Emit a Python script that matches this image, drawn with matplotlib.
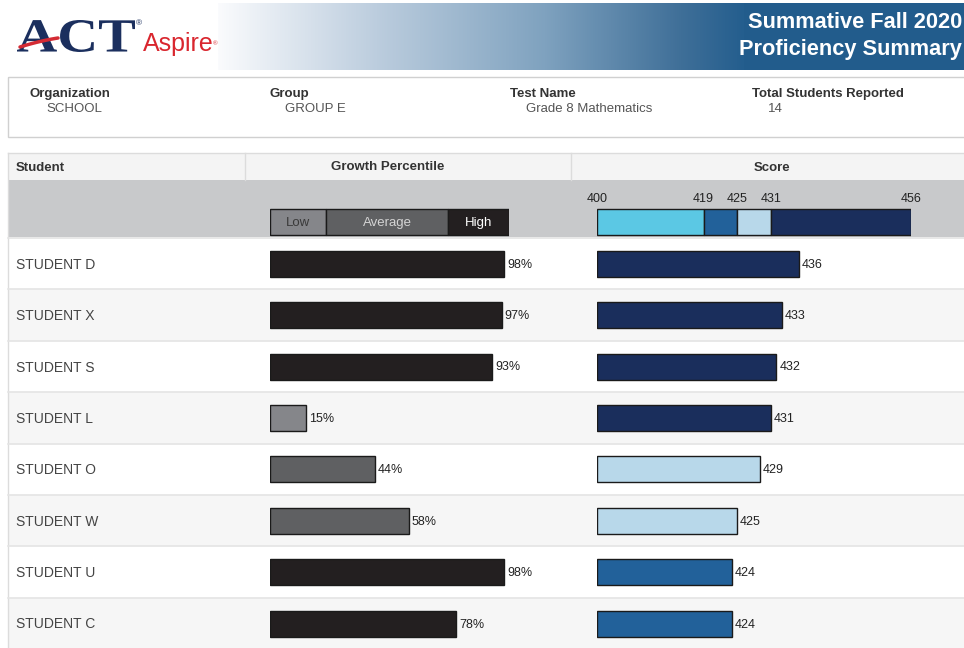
import numpy as np
import matplotlib
matplotlib.use('Agg')
import matplotlib.pyplot as plt
from matplotlib.colors import LinearSegmentedColormap
from matplotlib.textpath import TextPath
from matplotlib.patches import PathPatch, Rectangle
from matplotlib.font_manager import FontProperties
from matplotlib.transforms import Affine2D

plt.rcParams['font.family'] = ['Liberation Sans', 'DejaVu Sans']

students = ['STUDENT D', 'STUDENT X', 'STUDENT S', 'STUDENT L',
            'STUDENT O', 'STUDENT W', 'STUDENT U', 'STUDENT C']
growth = [98, 97, 93, 15, 44, 58, 98, 78]
scores = [436, 433, 432, 431, 429, 425, 424, 424]

growth_edges = [0, 23.5, 74.5, 100]
growth_labels = ['Low', 'Average', 'High']
growth_colors = ['#85868a', '#5f6062', '#231f20']
growth_text_colors = ['#3a3a3a', '#d4d4d4', '#ffffff']

score_edges = [400, 419, 425, 431, 456]
score_colors = ['#5bc8e4', '#22619a', '#b8d8ea', '#1a2e5c']

info_labels = ['Organization', 'Group', 'Test Name', 'Total Students Reported']
info_values = ['SCHOOL', 'GROUP E', 'Grade 8 Mathematics', '14']

W, H = 964, 648
fig = plt.figure(figsize=(W / 100, H / 100), dpi=100)

# background axes in pixel units
bg = fig.add_axes([0, 0, 1, 1])
bg.set_xlim(0, W)
bg.set_ylim(H, 0)
bg.axis('off')

# banner gradient
cmap = LinearSegmentedColormap.from_list('banner', [
    (0.0, '#fafbfd'), (0.3, '#bccdde'), (0.62, '#7fa2bf'),
    (0.88, '#3f6f98'), (1.0, '#245e8e')])
grad = np.linspace(0, 1, 256).reshape(1, -1)
bg.imshow(grad, cmap=cmap, extent=(218, 745, 70, 3), aspect='auto', zorder=0)
bg.add_patch(Rectangle((744, 3), W - 744, 67, color='#225c8c', lw=0, zorder=0))
bg.text(962, 22, 'Summative Fall 2020', color='white', fontsize=15.7,
        fontweight='bold', ha='right', va='center')
bg.text(962, 50, 'Proficiency Summary', color='white', fontsize=15.7,
        fontweight='bold', ha='right', va='center')

# logo
tp = TextPath((0, 0), 'ACT', size=1,
              prop=FontProperties(family='Liberation Serif', weight='bold'))
ext = tp.get_extents()
sx = 118 / ext.width
sy = 32 / ext.height
tr = Affine2D().translate(-ext.x0, -ext.y0).scale(sx, -sy).translate(17, 52)
bg.add_patch(PathPatch(tr.transform_path(tp), color='#1b2f5e', lw=0, zorder=2))
t = np.linspace(0, 1, 40)
swx = 20 + 38 * t
swy = 47 - 9 * t - 3 * t * (1 - t)
bg.plot(swx, swy, color='#d42b34', lw=2.5, solid_capstyle='round', zorder=3)
bg.text(136, 24, '®', color='#1b2f5e', fontsize=6, ha='left', va='center')
bg.text(143, 44, 'Aspire', color='#d9262e', fontsize=18, ha='left', va='center')
bg.text(213, 44, '®', color='#d9262e', fontsize=4.5, ha='left', va='center')

# info box
bg.add_patch(Rectangle((8, 77), W, 60, fill=False, ec='#d0d0d0', lw=1))
info_x = [30, 269, 510, 752]
for x, lab, val in zip(info_x, info_labels, info_values):
    bg.text(x, 94, lab, fontsize=9.5, fontweight='bold', color='#333333',
            va='center', ha='left')
    bg.text(x + 16, 109, val, fontsize=9.5, color='#555555',
            va='center', ha='left')

# table header
bg.add_patch(Rectangle((8, 153), W, 27, color='#f4f4f4', lw=0))
bg.plot([8, W], [153, 153], color='#dcdcdc', lw=1)
bg.plot([8, 8], [153, H], color='#dcdcdc', lw=1)
for x in [245, 571]:
    bg.plot([x, x], [153, 180], color='#dcdcdc', lw=1)
bg.text(16, 168, 'Student', fontsize=9.5, fontweight='bold', color='#333333',
        va='center', ha='left')
bg.text(388, 167, 'Growth Percentile', fontsize=9.5, fontweight='bold',
        color='#333333', va='center', ha='center')
bg.text(772, 168, 'Score', fontsize=9.5, fontweight='bold', color='#333333',
        va='center', ha='center')
bg.add_patch(Rectangle((8, 180), W, 57, color='#c8c9cb', lw=0))

# student rows
row_h = 51.4
row_top = 238
row_y = [row_top + row_h * i + row_h / 2 for i in range(len(students))]
for i, (name, y) in enumerate(zip(students, row_y)):
    top = row_top + row_h * i
    bg.add_patch(Rectangle((9, top), W, row_h,
                           color='#ffffff' if i % 2 == 0 else '#f6f6f6', lw=0))
    bg.plot([8, W], [top, top], color='#e4e4e4', lw=1.2)
    bg.text(16, y + 1, name, fontsize=10, color='#444444', va='center', ha='left')

legend_y = 222
bar_h = 26

# growth percentile axes
ax_g = fig.add_axes([270 / W, 0, (509 - 270) / W, 1])
ax_g.set_xlim(0, 100)
ax_g.set_ylim(H, 0)
ax_g.axis('off')
for lo, hi, c, lab, tc in zip(growth_edges[:-1], growth_edges[1:],
                               growth_colors, growth_labels, growth_text_colors):
    ax_g.barh(legend_y, hi - lo, left=lo, height=bar_h, color=c,
              edgecolor='#1a1a1a', lw=1)
    ax_g.text((lo + hi) / 2, legend_y + 1, lab, color=tc, fontsize=9.5,
              ha='center', va='center')


def growth_color(v):
    for lo, hi, c in zip(growth_edges[:-1], growth_edges[1:], growth_colors):
        if lo <= v <= hi:
            return c
    return growth_colors[-1]


for y, g in zip(row_y, growth):
    ax_g.barh(y, g, height=bar_h, color=growth_color(g), edgecolor='#1a1a1a', lw=1)
    ax_g.annotate(f'{g}%', (g, y), xytext=(3, -1), textcoords='offset pixels',
                  fontsize=9, color='#222222', va='center', ha='left',
                  annotation_clip=False)

# score axes
ax_s = fig.add_axes([597 / W, 0, (911 - 597) / W, 1])
ax_s.set_xlim(score_edges[0], score_edges[-1])
ax_s.set_ylim(H, 0)
ax_s.axis('off')
for lo, hi, c in zip(score_edges[:-1], score_edges[1:], score_colors):
    ax_s.barh(legend_y, hi - lo, left=lo, height=bar_h, color=c,
              edgecolor='#1a1a1a', lw=1)
for v in score_edges:
    ax_s.text(v, 199.5, str(v), fontsize=9, color='#222222', ha='center', va='center')


def score_color(v):
    for lo, hi, c in zip(score_edges[:-1], score_edges[1:], score_colors):
        if lo <= v < hi:
            return c
    return score_colors[-1]


for y, s in zip(row_y, scores):
    ax_s.barh(y, s - score_edges[0], left=score_edges[0], height=bar_h,
              color=score_color(s), edgecolor='#1a1a1a', lw=1)
    ax_s.annotate(str(s), (s, y), xytext=(3, -1), textcoords='offset pixels',
                  fontsize=9, color='#222222', va='center', ha='left',
                  annotation_clip=False)

fig.savefig('out.png', dpi=100)
